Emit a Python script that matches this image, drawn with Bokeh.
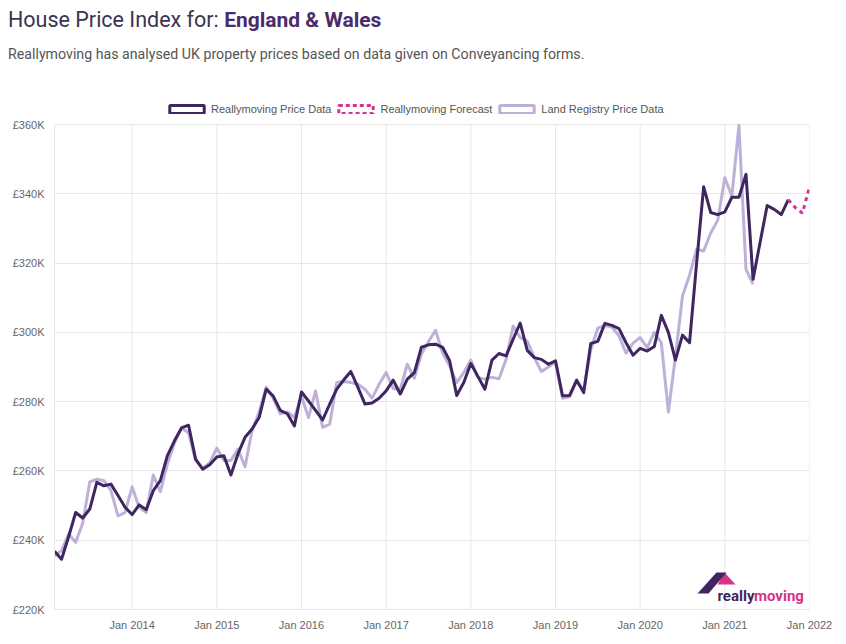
import math
import pandas as pd
from bokeh.plotting import figure
from bokeh.layouts import column
from bokeh.models import (Range1d, FixedTicker, Label, Legend, LegendItem,
                          PolyAnnotation, Div)
from bokeh.embed import file_html
from bokeh.resources import INLINE

# ---------------- data (thousands of £) ----------------
reallymoving_start = "2013-02"
reallymoving = [
    236.8, 234.5, 241.0, 248.0, 246.4, 249.0, 256.7, 255.7, 256.2, 252.9, 249.5,
    247.4, 250.2, 248.8, 254.3, 257.2, 264.4, 268.7, 272.4, 273.2, 263.4, 260.5, 261.8,
    264.0, 264.4, 258.8, 264.9, 269.7, 272.1, 275.4, 283.6, 281.6, 277.5, 276.5, 273.0,
    282.8, 280.2, 277.5, 274.7, 279.3, 283.6, 286.3, 288.7, 284.1, 279.3, 279.6, 281.0,
    283.1, 286.2, 282.2, 286.5, 288.4, 295.7, 296.4, 296.6, 295.7, 291.8, 281.8, 285.5,
    291.0, 287.3, 283.6, 292.0, 293.9, 293.2, 298.0, 302.7, 294.8, 292.7, 292.2, 290.8,
    291.8, 281.7, 281.8, 286.2, 282.6, 296.8, 297.4, 302.6, 302.0, 301.1, 297.0, 293.4,
    295.4, 294.6, 295.9, 304.9, 300.0, 292.0, 299.2, 297.0, 320.0, 342.0, 334.6, 334.0,
    334.8, 339.0, 339.0, 345.6, 315.3, 326.0, 336.6, 335.5, 334.0, 338.3,
]

land_registry_start = "2013-02"
land_registry = [
    235.5, 237.0, 241.8, 239.4, 245.0, 256.8, 257.6, 257.2, 254.3, 247.0, 248.0,
    255.4, 249.5, 248.0, 258.8, 254.0, 262.0, 268.0, 272.4, 271.0, 263.0, 260.8, 262.4,
    266.6, 263.0, 263.0, 266.3, 261.2, 271.6, 277.0, 284.2, 281.0, 276.5, 277.0, 275.5,
    281.5, 275.4, 283.1, 272.6, 273.5, 285.5, 285.8, 285.5, 285.0, 283.6, 281.0, 285.0,
    288.4, 283.8, 283.5, 290.8, 286.8, 293.7, 297.3, 300.6, 294.0, 290.3, 285.5, 288.4,
    292.0, 287.0, 286.5, 287.0, 286.6, 292.2, 301.8, 298.5, 297.5, 292.7, 288.7, 290.0,
    291.5, 281.0, 281.4, 286.0, 283.3, 295.0, 301.2, 302.0, 301.5, 299.0, 294.0, 296.9,
    298.5, 295.6, 300.0, 297.0, 277.0, 293.0, 310.5, 316.5, 324.0, 323.5, 328.7, 332.4,
    344.6, 339.3, 359.7, 318.2, 313.9,
]

forecast_start = "2021-10"
forecast = [338.3, 336.0, 334.4, 342.0]

x_tick_years = [2014, 2015, 2016, 2017, 2018, 2019, 2020, 2021, 2022]
x_tick_labels = ["Jan 2014", "Jan 2015", "Jan 2016", "Jan 2017", "Jan 2018",
                 "Jan 2019", "Jan 2020", "Jan 2021", "Jan 2022"]
y_ticks = [220, 240, 260, 280, 300, 320, 340, 360]
y_tick_labels = ["£220K", "£240K", "£260K", "£280K", "£300K", "£320K", "£340K", "£360K"]

series_names = ["Reallymoving Price Data", "Reallymoving Forecast", "Land Registry Price Data"]

title_plain = "House Price Index for:"
title_bold = "England &amp; Wales"
subtitle = "Reallymoving has analysed UK property prices based on data given on Conveyancing forms."


def month_x(start, n):
    per = pd.period_range(start, periods=n, freq="M")
    return [pr.year + (pr.month - 1) / 12 for pr in per]


DARK = "#3f2660"
LIGHT = "#bdb1d9"
PINK = "#d8328b"
GRID = "#e6e6e6"

# ---------------- header (HTML text) ----------------
HEAD_H = 70
header = Div(
    text=(
        f'<div style="position:relative;width:840px;height:{HEAD_H}px;">'
        '<div style="position:absolute;left:8px;top:9px;font-family:Roboto;'
        'font-size:21.5px;line-height:1;color:#3a3450;white-space:nowrap;">'
        f'{title_plain} <span style="font-weight:bold;color:#4a2c6b;font-size:21px;">'
        f'{title_bold}</span></div>'
        '<div style="position:absolute;left:8px;top:47px;font-family:Roboto;'
        'font-size:14.2px;line-height:1;color:#555555;white-space:nowrap;">'
        f'{subtitle}</div></div>'
    ),
    width=840, height=HEAD_H, margin=0,
)

# ---------------- chart ----------------
# The frame starts right under the header; the chart area (220..360) begins
# 54 px lower, leaving room for the legend inside the frame.
LEGEND_PX, CHART_PX = 54, 485
y_lo, y_hi = y_ticks[0], y_ticks[-1]
y_top = y_hi + LEGEND_PX * (y_hi - y_lo) / CHART_PX

p = figure(width=840, height=570, output_backend="svg", toolbar_location=None,
           x_range=Range1d(2013 + 1 / 12, 2022), y_range=Range1d(y_lo, y_top),
           min_border_left=54, min_border_right=31, min_border_top=0,
           min_border_bottom=31)
p.outline_line_color = None
p.background_fill_color = "white"

p.xaxis.ticker = FixedTicker(ticks=x_tick_years)
p.xaxis.major_label_overrides = dict(zip(x_tick_years, x_tick_labels))
p.yaxis.ticker = FixedTicker(ticks=y_ticks)
p.yaxis.major_label_overrides = dict(zip(y_ticks, y_tick_labels))
p.yaxis.bounds = (y_lo, y_hi)
for ax in (p.xaxis, p.yaxis):
    ax.axis_line_color = GRID
    ax.major_tick_line_color = None
    ax.minor_tick_line_color = None
    ax.major_tick_out = 0
    ax.major_tick_in = 0
    ax.major_label_text_font = "Liberation Sans"
    ax.major_label_text_font_size = "11px"
    ax.major_label_text_color = "#666666"
p.yaxis.major_label_standoff = 10
p.xaxis.major_label_standoff = 9
p.xgrid.grid_line_color = None
p.ygrid.ticker = FixedTicker(ticks=y_ticks)
p.ygrid.grid_line_color = GRID

# vertical grid lines over the chart area only
p.segment(x0=x_tick_years, x1=x_tick_years,
          y0=[y_lo] * len(x_tick_years), y1=[y_hi] * len(x_tick_years),
          line_color=GRID, line_width=1)

# series
p.line(month_x(land_registry_start, len(land_registry)), land_registry,
       line_color=LIGHT, line_width=3, line_join="round")
p.line(month_x(reallymoving_start, len(reallymoving)), reallymoving,
       line_color=DARK, line_width=3, line_join="round")
p.line(month_x(forecast_start, len(forecast)), forecast,
       line_color=PINK, line_width=3, line_dash="4 4")

# legend with box icons (dummy renderers hold one invisible NaN row)
nan = [math.nan]
r1 = p.quad(left=nan, right=nan, top=nan, bottom=nan, fill_color=None,
            line_color=DARK, line_width=3)
r2 = p.quad(left=nan, right=nan, top=nan, bottom=nan, fill_color=None,
            line_color=PINK, line_width=3, line_dash="4 3")
r3 = p.quad(left=nan, right=nan, top=nan, bottom=nan, fill_color=None,
            line_color=LIGHT, line_width=3)
legend = Legend(items=[LegendItem(label=series_names[0], renderers=[r1], index=0),
                       LegendItem(label=series_names[1], renderers=[r2], index=0),
                       LegendItem(label=series_names[2], renderers=[r3], index=0)],
                orientation="horizontal", location=(111, 494),
                glyph_width=43, glyph_height=10, label_height=13,
                label_standoff=3, spacing=3, padding=0, margin=0,
                border_line_color=None, background_fill_alpha=0,
                label_text_font="Liberation Sans", label_text_font_size="11px",
                label_text_color="#555555")
p.add_layout(legend, "center")

# logo (canvas coordinates of the chart figure)
p.add_layout(PolyAnnotation(xs=[724, 735, 717], ys=[502, 514, 514],
                            xs_units="canvas", ys_units="canvas",
                            fill_color=PINK, fill_alpha=1, line_color=None))
p.add_layout(PolyAnnotation(xs=[697, 716, 726, 708], ys=[523, 502, 502, 523],
                            xs_units="canvas", ys_units="canvas",
                            fill_color=DARK, fill_alpha=1, line_color=None))
p.add_layout(Label(x=717, y=525, x_units="canvas", y_units="canvas",
                   text="really", text_font="Roboto", text_font_style="bold",
                   text_font_size="15px", text_color=DARK, text_baseline="alphabetic"))
p.add_layout(Label(x=753.5, y=525, x_units="canvas", y_units="canvas",
                   text="moving", text_font="Roboto", text_font_style="bold",
                   text_font_size="15px", text_color=PINK, text_baseline="alphabetic"))

layout = column(header, p, spacing=0)
open("out.html", "w").write(file_html(layout, INLINE))
